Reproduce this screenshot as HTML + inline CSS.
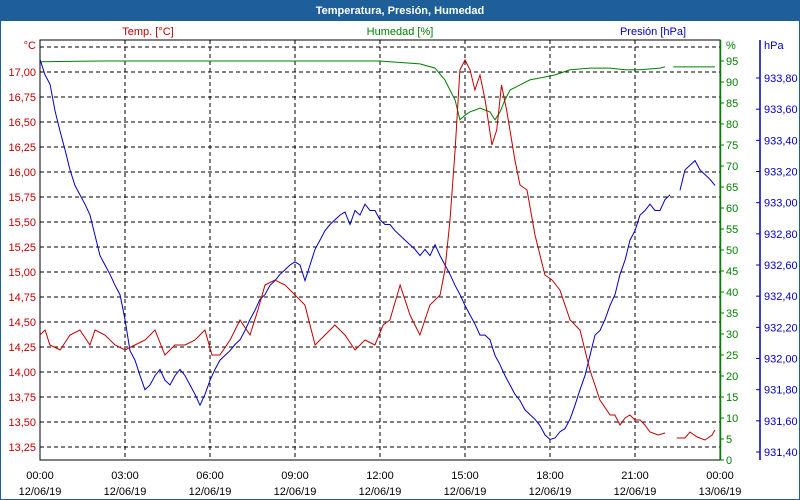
<!DOCTYPE html>
<html><head><meta charset="utf-8"><style>
body{margin:0;background:#fff;font-family:"Liberation Sans",sans-serif}
#wrap{position:relative;width:800px;height:500px;overflow:hidden;background:#fff}
svg text{font-family:"Liberation Sans",sans-serif;font-size:11px}
</style></head><body>
<div id="wrap">
<svg id="chart" width="800" height="500">
<rect x="0" y="0" width="800" height="20" fill="#1f5f99"/>
<text x="400" y="14" text-anchor="middle" fill="#fff" font-weight="bold">Temperatura, Presión, Humedad</text>
<rect x="0.5" y="20.5" width="799" height="479" fill="none" stroke="#1f5f99"/>
<text x="148" y="35" text-anchor="middle" fill="#c00000">Temp. [°C]</text>
<text x="400" y="35" text-anchor="middle" fill="#008000">Humedad [%]</text>
<text x="653" y="35" text-anchor="middle" fill="#0000c0">Presión [hPa]</text>
<g id="grid"></g>
<g id="axes"></g>
<g id="series"></g>
</svg>
</div>
<script>
const tempTimes=[0,0.18,0.35,0.71,1.06,1.41,1.76,1.94,2.29,2.65,3.0,3.35,3.71,4.06,4.41,4.76,5.12,5.47,5.82,6.07,6.35,6.71,7.06,7.41,7.69,7.94,8.29,8.65,9.0,9.35,9.71,10.06,10.41,10.76,11.12,11.47,11.82,12.11,12.35,12.71,13.06,13.41,13.76,14.12,14.29,14.47,14.65,14.82,15.0,15.18,15.35,15.53,15.71,15.95,16.12,16.29,16.47,16.76,16.94,17.19,17.47,17.82,18.07,18.35,18.71,19.06,19.41,19.76,20.12,20.29,20.47,20.65,20.82,21.0,21.18,21.35,21.53,21.82,22.06,22.3,22.48,22.76,22.94,23.19,23.47,23.72,23.82];
const tempValues=[14.37,14.42,14.27,14.22,14.37,14.42,14.27,14.42,14.37,14.27,14.22,14.27,14.32,14.42,14.17,14.27,14.27,14.32,14.42,14.17,14.17,14.32,14.52,14.37,14.62,14.87,14.92,14.87,14.77,14.67,14.27,14.37,14.47,14.37,14.22,14.32,14.27,14.47,14.52,14.87,14.57,14.37,14.67,14.77,15.02,15.52,16.22,17.02,17.12,17.02,16.82,16.97,16.72,16.27,16.42,16.87,16.62,16.12,15.87,15.82,15.37,14.97,14.92,14.82,14.52,14.42,14.02,13.72,13.57,13.57,13.47,13.54,13.57,13.52,13.52,13.47,13.40,13.37,13.39,null,13.34,13.34,13.40,13.35,13.32,13.37,13.42];
const humTimes=[0,2.12,5.65,12,12.35,13.41,13.94,14.29,14.65,14.82,15.0,15.18,15.35,15.53,15.71,15.88,16.06,16.24,16.41,16.59,16.94,17.29,17.82,18.18,18.71,19.41,20.12,20.65,21.18,21.88,22.06,22.2,22.35,23.82];
const humValues=[94.8,95.0,95.0,95.0,94.8,94.3,93.3,90.5,85.7,81.0,82.1,82.9,83.3,83.8,83.3,82.9,81.0,82.9,85.7,88.1,89.3,90.5,91.2,91.7,92.9,93.3,93.3,92.9,92.9,93.3,93.6,null,93.6,93.6];
const presStartHour=0, presStepHour=3/17;
const presValues=[933.92,933.82,933.76,933.59,933.46,933.34,933.21,933.11,933.05,932.99,932.92,932.79,932.66,932.60,932.54,932.47,932.41,932.25,932.05,931.99,931.89,931.80,931.83,931.89,931.93,931.86,931.83,931.89,931.93,931.89,931.83,931.77,931.70,931.77,931.86,931.93,931.99,932.02,932.05,932.09,932.12,932.18,932.25,932.31,932.38,932.41,932.47,932.50,932.54,932.57,932.60,932.62,932.60,932.50,932.60,932.70,932.76,932.82,932.86,932.89,932.92,932.94,932.86,932.95,932.92,932.99,932.95,932.95,932.89,932.86,932.86,932.82,932.79,932.76,932.73,932.70,932.66,932.70,932.66,932.73,932.66,932.60,932.54,932.47,932.41,932.34,932.28,932.22,932.15,932.15,932.12,932.02,931.96,931.89,931.83,931.77,931.73,931.67,931.64,931.61,931.57,931.51,931.48,931.49,931.53,931.55,931.61,931.70,931.80,931.89,932.02,932.15,932.18,932.25,932.34,932.41,932.54,932.63,932.76,932.82,932.92,932.95,932.99,932.95,932.95,933.02,933.05,null,933.08,933.21,933.24,933.27,933.21,933.18,933.15,933.11];
const tempTicks=["17,00","16,75","16,50","16,25","16,00","15,75","15,50","15,25","15,00","14,75","14,50","14,25","14,00","13,75","13,50","13,25"];
const tempTickVals=[17,16.75,16.5,16.25,16,15.75,15.5,15.25,15,14.75,14.5,14.25,14,13.75,13.5,13.25];
const humTicks=[0,5,10,15,20,25,30,35,40,45,50,55,60,65,70,75,80,85,90,95];
const presTickVals=[933.8,933.6,933.4,933.2,933.0,932.8,932.6,932.4,932.2,932.0,931.8,931.6,931.4];
const presTicks=["933,80","933,60","933,40","933,20","933,00","932,80","932,60","932,40","932,20","932,00","931,80","931,60","931,40"];
const timeTicks=[0,3,6,9,12,15,18,21,24];
const timeLabels=["00:00","03:00","06:00","09:00","12:00","15:00","18:00","21:00","00:00"];
const dateLabels=["12/06/19","12/06/19","12/06/19","12/06/19","12/06/19","12/06/19","12/06/19","12/06/19","13/06/19"];

const L=40,R=720,T=40,B=460;
const xS=h=>L+h*(R-L)/24;
const yT=v=>72+(17-v)*100;
const yH=v=>B-v*(B-T)/100;
const yP=v=>78+(933.8-v)*(452-78)/2.4;
const NS="http://www.w3.org/2000/svg";
function mk(tag,parent,attrs){const e=document.createElementNS(NS,tag);for(const k in attrs)e.setAttribute(k,attrs[k]);parent.appendChild(e);return e;}
const grid=document.getElementById('grid'),axes=document.getElementById('axes'),series=document.getElementById('series');
// horizontal grid lines
[17.25].concat(tempTickVals).forEach(v=>{
 const l=mk('line',grid,{x1:L,x2:R,y1:yT(v),y2:yT(v),stroke:'#000','stroke-dasharray':'4,3'});
 
 
});
timeTicks.forEach((t,i)=>{
 if(i>0&&i<timeTicks.length-1){
  const l=mk('line',grid,{x1:xS(t),x2:xS(t),y1:T,y2:B,stroke:'#000','stroke-dasharray':'4,3'});
  
  
 }
 const a=mk('text',axes,{x:xS(t),y:479,'text-anchor':'middle',fill:'#000'});a.textContent=timeLabels[i];
 
 
 const b=mk('text',axes,{x:xS(t),y:495,'text-anchor':'middle',fill:'#000'});b.textContent=dateLabels[i];
 
 
});
const box=mk('rect',axes,{x:L,y:T,width:R-L,height:B-T,fill:'none',stroke:'#000'});


const ga=mk('line',axes,{x1:R+0.5,x2:R+0.5,y1:T,y2:B,stroke:'#008000','stroke-width':1.5});


const pa=mk('line',axes,{x1:760,x2:760,y1:T,y2:B,stroke:'#0000c0','stroke-width':1.5});


const cu=mk('text',axes,{x:36,y:49,'text-anchor':'end',fill:'#c00000'});cu.textContent='°C';


const hu=mk('text',axes,{x:726,y:49,fill:'#008000'});hu.textContent='%';


const pu=mk('text',axes,{x:764,y:49,fill:'#0000c0'});pu.textContent='hPa';


tempTickVals.forEach((v,i)=>{
 const t=mk('text',axes,{x:36,y:yT(v)+4,'text-anchor':'end',fill:'#c00000'});t.textContent=tempTicks[i];
 
 
});
humTicks.forEach(v=>{
 mk('line',axes,{x1:R,x2:R+4,y1:yH(v),y2:yH(v),stroke:'#008000'});
 const t=mk('text',axes,{x:726,y:yH(v)+4,fill:'#008000'});t.textContent=v;
 
 
});
presTickVals.forEach((v,i)=>{
 mk('line',axes,{x1:756,x2:760,y1:yP(v),y2:yP(v),stroke:'#0000c0'});
 const t=mk('text',axes,{x:764,y:yP(v)+4,fill:'#0000c0'});t.textContent=presTicks[i];
 
 
});
function pathD(xs,vs,yf){let d='',pen=false;vs.forEach((v,i)=>{if(v===null){pen=false;return;}d+=(pen?'L':'M')+xS(xs[i]).toFixed(1)+','+yf(v).toFixed(1);pen=true;});return d;}
const presTimes=presValues.map((v,i)=>presStartHour+i*presStepHour);
const hp=mk('path',series,{d:pathD(humTimes,humValues,yH),fill:'none',stroke:'#008000','stroke-width':1});


const pp=mk('path',series,{d:pathD(presTimes,presValues,yP),fill:'none',stroke:'#0000c0','stroke-width':1});


const tp=mk('path',series,{d:pathD(tempTimes,tempValues,yT),fill:'none',stroke:'#c00000','stroke-width':1});


</script>
</body></html>
